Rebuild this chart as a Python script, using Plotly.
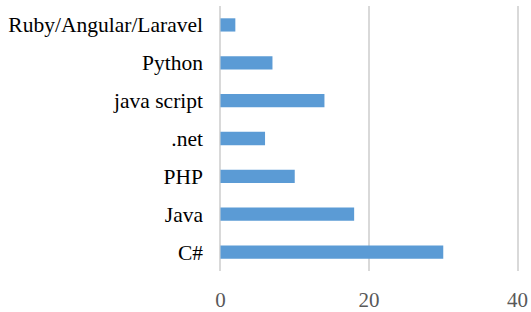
import plotly.graph_objects as go

categories = ["C#", "Java", "PHP", ".net", "java script", "Python", "Ruby/Angular/Laravel"]
values = [30, 18, 10, 6, 14, 7, 2]
x_ticks = [0, 20, 40]

fig = go.Figure(go.Bar(
    x=values, y=categories, orientation="h",
    marker=dict(color="#5B9BD5", line=dict(width=0)),
    width=0.35, hoverinfo="skip",
))

fig.update_layout(
    width=531, height=312,
    margin=dict(l=219, r=12, t=6, b=41),
    paper_bgcolor="white", plot_bgcolor="white",
    font=dict(family="Liberation Serif", size=21.5, color="#000000"),
    showlegend=False,
)
fig.update_xaxes(
    range=[-0.2, 40.2], tickvals=x_ticks, showgrid=True, gridcolor="#D9D9D9", gridwidth=2,
    zeroline=True, zerolinecolor="#D9D9D9", zerolinewidth=2,
    showline=False, ticks="", ticklabelstandoff=14,
    tickfont=dict(color="#595959", size=21), fixedrange=True, automargin=False,
)
fig.update_yaxes(
    categoryorder="array", categoryarray=categories,
    showgrid=False, zeroline=False, showline=False, ticks="", ticklabelstandoff=15,
    tickfont=dict(color="#000000", size=21.5), automargin=False, fixedrange=True,
)
fig.write_html("out.html", config={"displayModeBar": False},
               post_script="document.body.style.margin='0';")
